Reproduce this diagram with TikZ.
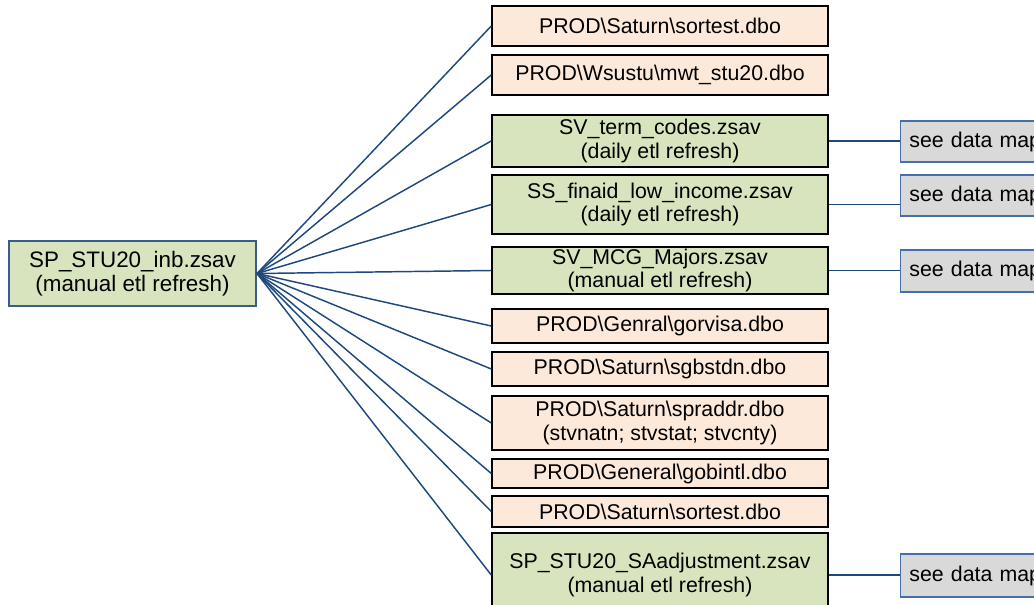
\documentclass[tikz,border=0pt]{standalone}
\usepackage{fontspec}
\setmainfont{Liberation Sans}

\definecolor{peach}{RGB}{253,233,217}
\definecolor{leaf}{RGB}{215,228,189}
\definecolor{greybox}{RGB}{217,217,217}
\definecolor{navy}{RGB}{31,73,125}
\definecolor{srcline}{RGB}{56,93,138}
\definecolor{mapline}{RGB}{70,110,170}

\tikzset{every picture/.style={line width=0.75pt}}

\begin{document}
\begin{tikzpicture}[x=0.75pt,y=0.75pt,yscale=-1,xscale=1,
  every node/.style={font=\fontsize{16}{17.5}\selectfont, align=center, inner sep=0pt},
  srcbox/.style={draw=srcline, line width=1.5pt, fill=leaf, minimum width=185.25pt, minimum height=48.75pt, font=\fontsize{16.8}{18}\selectfont},
  tablebox/.style={draw=black, line width=1.1pt, fill=peach, minimum width=252pt},
  zsavbox/.style={draw=black, line width=1.1pt, fill=leaf, minimum width=252pt},
  mapbox/.style={draw=mapline, line width=1.1pt, fill=greybox, anchor=west, align=left, text width=110pt, inner xsep=6.5pt},
  link/.style={draw=navy, line width=1.1pt}]
\useasboundingbox (0,0) rectangle (1034,605);
\clip (0,0) rectangle (1034,605);

% Source
\node [srcbox] (src) at (132.5,273.5) {SP\_STU20\_inb.zsav\\(manual etl refresh)};

% Inputs
\node [tablebox, minimum height=30pt] (t1) at (660,26) {PROD\textbackslash Saturn\textbackslash sortest.dbo};
\node [tablebox, minimum height=30pt] (t2) at (660,75) {PROD\textbackslash Wsustu\textbackslash mwt\_stu20.dbo};
\node [zsavbox, minimum height=39pt] (z1) at (660,141) {SV\_term\_codes.zsav\\(daily etl refresh)};
\node [zsavbox, minimum height=44.25pt] (z2) at (660,204.5) {SS\_finaid\_low\_income.zsav\\(daily etl refresh)};
\node [zsavbox, minimum height=35.25pt] (z3) at (660,270.5) {SV\_MCG\_Majors.zsav\\(manual etl refresh)};
\node [tablebox, minimum height=25.5pt] (t3) at (660,326) {PROD\textbackslash Genral\textbackslash gorvisa.dbo};
\node [tablebox, minimum height=25.5pt] (t4) at (660,369) {PROD\textbackslash Saturn\textbackslash sgbstdn.dbo};
\node [tablebox, minimum height=40.5pt] (t5) at (660,423) {PROD\textbackslash Saturn\textbackslash spraddr.dbo\\(stvnatn; stvstat; stvcnty)};
\node [tablebox, minimum height=21.75pt] (t6) at (660,473.5) {PROD\textbackslash General\textbackslash gobintl.dbo};
\node [tablebox, minimum height=23.25pt] (t7) at (660,511.5) {PROD\textbackslash Saturn\textbackslash sortest.dbo};
\node [zsavbox, minimum height=63pt] (z4) at (660,575) {SP\_STU20\_SAadjustment.zsav\\(manual etl refresh)};

% Data maps (cut off at the right edge, as in the original)
\node [mapbox, minimum height=31pt] (m1) at (900,141.5) {see data map};
\node [mapbox, minimum height=30.75pt] (m2) at (900,195.5) {see data map};
\node [mapbox, minimum height=31.5pt] (m3) at (900,271) {see data map};
\node [mapbox, minimum height=32.25pt] (m4) at (900,575.5) {see data map};

% Connectors
\foreach \n in {t1,t2,z1,z2,z3,t3,t4,t5,t6,t7,z4}
  \draw [link] (src.east) -- (\n.west);
\foreach \z/\m in {z1/m1,z2/m2,z3/m3,z4/m4}
  \draw [link] (\z.east) -- (\z.east -| \m.west);
\end{tikzpicture}
\end{document}
